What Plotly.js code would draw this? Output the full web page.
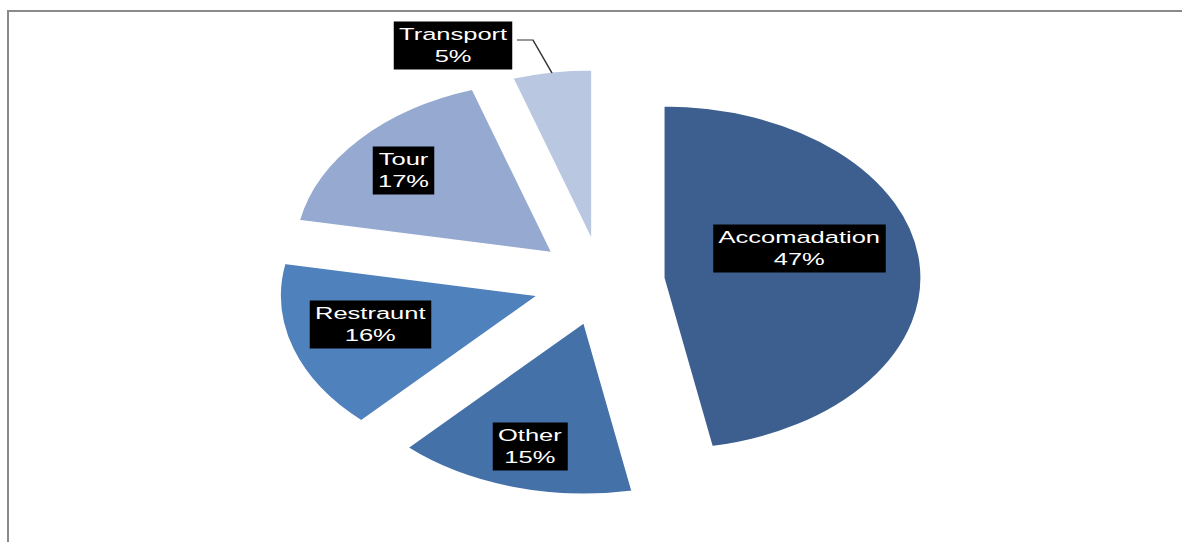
<!DOCTYPE html>
<html>
<head>
<meta charset="utf-8">
<script src="https://cdn.plot.ly/plotly-3.0.1.min.js"></script>
<style>
  html, body { margin: 0; padding: 0; background: #fff; overflow: hidden; width: 1182px; height: 542px; }
  #frame { position: absolute; left: 7px; top: 10px; width: 1200px; height: 600px;
           border-top: 2px solid #8a8a8a; border-left: 2px solid #8a8a8a; }
  #plot { position: absolute; left: 0; top: 0; width: 788px; height: 542px;
          transform: scaleX(1.5); transform-origin: 0 0; }
</style>
</head>
<body>
<div id="frame"></div>
<div id="plot"></div>
<script>
// Data
var categories = ["Accomadation", "Other", "Restraunt", "Tour", "Transport"];
var shares = [47, 15, 16, 17, 5];

// Styles
var sliceColors = ["#3D5F8F", "#4571A9", "#4F81BD", "#95A9D1", "#B9C7E1"];
var slicePull = [0.24, 0.245, 0.26, 0.255, 0.235];
var labelPos = [[0.6768, 0.5406], [0.4492, 0.1753], [0.3131, 0.4022], [0.341, 0.6854], [0.3832, 0.916]];

var trace = {
  type: "pie",
  labels: categories,
  values: shares,
  sort: false,
  direction: "clockwise",
  rotation: 0,
  pull: slicePull,
  marker: { colors: sliceColors, line: { color: "#ffffff", width: 1.5 } },
  textinfo: "none",
  hoverinfo: "label+percent",
  showlegend: false,
  domain: { x: [0.2335, 0.7847], y: [0.0802, 0.8802] }
};

var annotations = categories.map(function (c, i) {
  return {
    xref: "paper", yref: "paper",
    x: labelPos[i][0], y: labelPos[i][1],
    xanchor: "center", yanchor: "middle",
    text: c + "<br>" + shares[i] + "%",
    showarrow: false,
    bgcolor: "#000000",
    borderpad: 3,
    font: { family: "Liberation Sans, Arial, sans-serif", size: 17, color: "#ffffff" }
  };
});

var layout = {
  width: 788, height: 542,
  margin: { l: 0, r: 0, t: 0, b: 0 },
  paper_bgcolor: "rgba(0,0,0,0)",
  plot_bgcolor: "rgba(0,0,0,0)",
  annotations: annotations,
  shapes: [{
    type: "path", xref: "paper", yref: "paper",
    path: "M 0.4374 0.9262 L 0.4509 0.9262 L 0.467 0.8653",
    line: { color: "#333333", width: 1 }
  }]
};

Plotly.newPlot("plot", [trace], layout, { displayModeBar: false, staticPlot: true });
</script>
</body>
</html>
